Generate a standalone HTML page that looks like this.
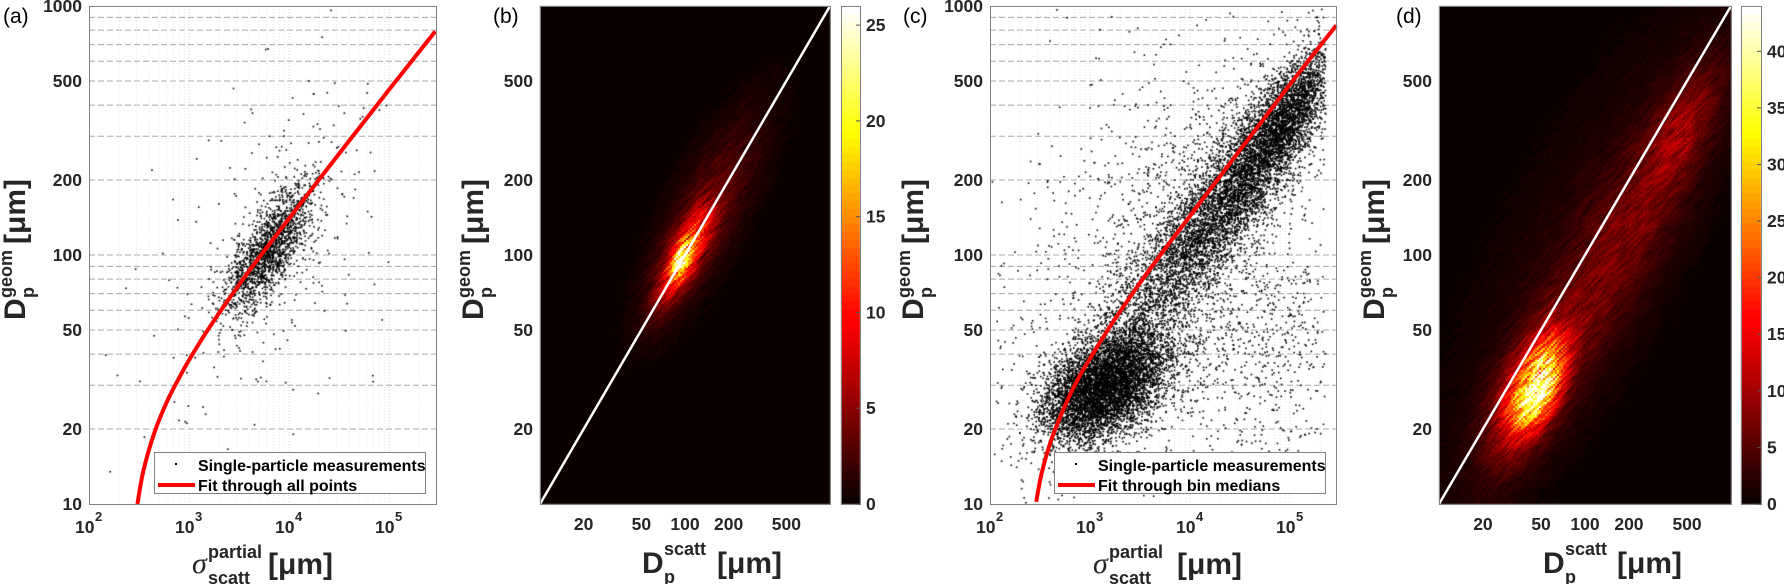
<!DOCTYPE html>
<html><head><meta charset="utf-8"><title>Particle size scatter and density</title>
<style>
html,body{margin:0;padding:0;background:#fff}
#wrap{position:relative;width:1784px;height:584px;overflow:hidden;background:#fff}
svg,canvas{position:absolute;left:0;top:0}
text{font-family:"Liberation Sans",Arial,sans-serif;fill:#262626}
.tk{font-size:17.5px;font-weight:bold}
.lg{font-size:16px;font-weight:bold;fill:#000}
.pl{font-size:21px;fill:#000}
.big{font-size:30px;font-weight:bold}
.sm{font-size:18px;font-weight:bold}
</style></head>
<body>
<div id="wrap">
<svg id="back" width="1784" height="584"></svg>
<canvas id="cv" width="1784" height="584"></canvas>
<svg id="front" width="1784" height="584">
  <text class="pl" x="3" y="23">(a)</text>
  <text class="pl" x="493" y="23">(b)</text>
  <text class="pl" x="903" y="23">(c)</text>
  <text class="pl" x="1396" y="23">(d)</text>

  <g>
    <text x="192" y="573" style="font-size:30px;font-style:italic;font-family:'Liberation Serif',serif">σ</text>
    <text class="sm" x="208" y="558">partial</text>
    <text class="sm" x="208" y="584">scatt</text>
    <text class="big" x="268" y="574">[μm]</text>
  </g>
  <g>
    <text class="big" x="642" y="573">D</text>
    <text class="sm" x="664" y="555">scatt</text>
    <text class="sm" x="664" y="583">p</text>
    <text class="big" x="717" y="573">[μm]</text>
  </g>
  <g>
    <text x="1093" y="573" style="font-size:30px;font-style:italic;font-family:'Liberation Serif',serif">σ</text>
    <text class="sm" x="1109" y="558">partial</text>
    <text class="sm" x="1109" y="584">scatt</text>
    <text class="big" x="1177" y="574">[μm]</text>
  </g>
  <g>
    <text class="big" x="1543" y="573">D</text>
    <text class="sm" x="1565" y="555">scatt</text>
    <text class="sm" x="1565" y="583">p</text>
    <text class="big" x="1617" y="573">[μm]</text>
  </g>

  <g transform="translate(25,320) rotate(-90)">
    <text class="big" x="0" y="0">D</text><text class="sm" x="22" y="-13">geom</text><text class="sm" x="22" y="9">p</text><text class="big" x="76" y="0">[μm]</text>
  </g>
  <g transform="translate(483,320) rotate(-90)">
    <text class="big" x="0" y="0">D</text><text class="sm" x="22" y="-13">geom</text><text class="sm" x="22" y="9">p</text><text class="big" x="76" y="0">[μm]</text>
  </g>
  <g transform="translate(923,320) rotate(-90)">
    <text class="big" x="0" y="0">D</text><text class="sm" x="22" y="-13">geom</text><text class="sm" x="22" y="9">p</text><text class="big" x="76" y="0">[μm]</text>
  </g>
  <g transform="translate(1384,320) rotate(-90)">
    <text class="big" x="0" y="0">D</text><text class="sm" x="22" y="-13">geom</text><text class="sm" x="22" y="9">p</text><text class="big" x="76" y="0">[μm]</text>
  </g>
</svg>
</div>
<script>
// ---------- data arrays ----------
const yTicksScatter=[10,20,50,100,200,500,1000];
const xTickExpScatter=[2,3,4,5];
const yTicksHeat=[20,50,100,200,500];
const xTicksHeat=[20,50,100,200,500];
const cbTicksB=[0,5,10,15,20,25];
const cbTicksD=[0,5,10,15,20,25,30,35,40];
const cbMaxB=26;
const cbMaxD=44;
const identityLine=[10,1000];

const fitA_sigma=[305,350,450,600,800,1000,1500,2500,5250,20000,100000,290000];
const fitA_D=[10,13.6,19.3,25.7,32.2,37.8,49.2,66.5,100,201,461,791];
const fitC_sigma=[290,330,420,600,800,1000,1500,2500,5050,20000,100000,290000];
const fitC_D=[10.2,13.4,18.6,26.3,33.0,38.4,49.9,67.6,100,207,484,836];

// scatter cluster descriptors (log10 units)
const scatA_cx=[3.78,3.9,3.7];
const scatA_cy=[2.02,2.1,1.9];
const scatA_sx=[0.22,0.5,0.8];
const scatA_sy=[0.13,0.3,0.45];
const scatA_rho=[0.75,0.5,0.3];
const scatA_n=[1700,250,90];

const scatC_cx=[3.15,4.4,4.95,3.8,4.8];
const scatC_cy=[1.48,2.25,2.55,2.0,1.6];
const scatC_sx=[0.32,0.55,0.2,0.8,0.45];
const scatC_sy=[0.12,0.3,0.12,0.45,0.25];
const scatC_rho=[0.45,0.9,0.7,0.4,0];
const scatC_n=[6500,6000,1500,1800,500];

// heatmap blob descriptors (log10 units; along / perpendicular to diagonal)
const heatB_cx=[2.0,1.97,2.15];
const heatB_cy=[2.0,1.97,2.17];
const heatB_sa=[0.17,0.06,0.38];
const heatB_sp=[0.06,0.035,0.14];
const heatB_amp=[12,11,3];

const heatD_cx=[1.68,1.6,2.2,2.65,2.0];
const heatD_cy=[1.47,1.45,2.0,2.5,2.0];
const heatD_sa=[0.14,0.22,0.7,0.2,0.9];
const heatD_sp=[0.08,0.11,0.16,0.09,0.35];
const heatD_amp=[32,11,5.5,5.5,2];

// ---------- layout ----------
const AX={
 a:{L:89,R:436,T:6,B:504,x0:2,x1:5.47,y0:1,y1:3},
 b:{L:540,R:830,T:6,B:504,x0:1,x1:3,y0:1,y1:3},
 c:{L:990,R:1336,T:6,B:504,x0:2,x1:5.46,y0:1,y1:3},
 d:{L:1439,R:1731,T:6,B:504,x0:1,x1:3,y0:1,y1:3}
};
const CB={b:{L:841,R:860,T:6,B:504,max:cbMaxB,ticks:cbTicksB},d:{L:1741,R:1761,T:6,B:504,max:cbMaxD,ticks:cbTicksD}};
function sx(ax,lv){return ax.L+(lv-ax.x0)/(ax.x1-ax.x0)*(ax.R-ax.L);}
function sy(ax,lv){return ax.B-(lv-ax.y0)/(ax.y1-ax.y0)*(ax.B-ax.T);}
const NS='http://www.w3.org/2000/svg';
const back=document.getElementById('back'), front=document.getElementById('front');
function mk(tag,attrs,parent){const e=document.createElementNS(NS,tag);for(const k in attrs)e.setAttribute(k,attrs[k]);parent.appendChild(e);return e;}
const cv=document.getElementById('cv'); const ctx=cv.getContext('2d');

function rng(seed){let a=seed>>>0;return function(){a|=0;a=a+0x6D2B79F5|0;let t=Math.imul(a^a>>>15,1|a);t=t+Math.imul(t^t>>>7,61|t)^t;return((t^t>>>14)>>>0)/4294967296;};}

// ---------- grids for scatter panels ----------
function grid(ax,key){
 for(let d=1;d<=2;d++)for(let m=1;m<=9;m++){
  const lv=Math.log10(m*Math.pow(10,d)); if(lv<=ax.y0||lv>=ax.y1)continue;
  const ln=mk('line',{x1:ax.L,x2:ax.R,y1:sy(ax,lv),y2:sy(ax,lv),stroke:'#a8a8a8','stroke-width':1,'stroke-dasharray':'6,3'},back);
  
  
 }
 for(let d=2;d<=5;d++)for(let m=1;m<=9;m++){
  const lv=Math.log10(m*Math.pow(10,d)); if(lv<=ax.x0||lv>=ax.x1)continue;
  const ln=mk('line',{x1:sx(ax,lv),x2:sx(ax,lv),y1:ax.T,y2:ax.B,stroke:m===1?'#d8d8d8':'#e6e6e6','stroke-width':1,'stroke-dasharray':'1,2'},back);
  
  
 }
}
grid(AX.a,'a'); grid(AX.c,'c');

// ---------- scatter ----------
function scatter(ax,cx,cy,sxs,sys,rho,n,seed,xmax){
 const r=rng(seed); ctx.fillStyle='#000';
 for(let k=0;k<cx.length;k++){
  for(let i=0;i<n[k];i++){
   const u1=Math.max(r(),1e-9),u2=r(),u3=Math.max(r(),1e-9),u4=r();
   const g1=Math.sqrt(-2*Math.log(u1))*Math.cos(2*Math.PI*u2);
   const g2=Math.sqrt(-2*Math.log(u3))*Math.cos(2*Math.PI*u4);
   const lx=cx[k]+sxs[k]*g1;
   const ly=cy[k]+sys[k]*(rho[k]*g1+Math.sqrt(1-rho[k]*rho[k])*g2);
   if(lx>xmax)continue;
   const px=sx(ax,lx),py=sy(ax,ly);
   if(px<ax.L+1||px>ax.R-2||py<ax.T+1||py>ax.B-2)continue;
   ctx.fillRect(px,py,1.6,1.6);
  }
 }
}
scatter(AX.a,scatA_cx,scatA_cy,scatA_sx,scatA_sy,scatA_rho,scatA_n,11,5.0);
scatter(AX.c,scatC_cx,scatC_cy,scatC_sx,scatC_sy,scatC_rho,scatC_n,29,5.35);

// ---------- heatmaps ----------
function hot(t){t=Math.max(0,Math.min(1,t));t=Math.floor(t*63.999)/63;
 const r=Math.min(1,t*2.667+0.042),g=Math.max(0,Math.min(1,(t-0.375)*2.667)),b=Math.max(0,Math.min(1,(t-0.75)*4));
 return 'rgb('+Math.round(r*255)+','+Math.round(g*255)+','+Math.round(b*255)+')';}
function heat(ax,cx,cy,sa,sp,amp,max,seed){
 const r=rng(seed); const cs=2;
 const nx=Math.ceil((ax.R-ax.L)/cs), ny=Math.ceil((ax.B-ax.T)/cs);
 const N=[]; for(let i=0;i<nx;i++){N.push([]);for(let j=0;j<ny;j++)N[i].push(r());}
 const g=(i,j)=>N[Math.max(0,Math.min(nx-1,i))][Math.max(0,Math.min(ny-1,j))];
 for(let i=0;i<nx;i++)for(let j=0;j<ny;j++){
  const px=ax.L+i*cs, py=ax.T+j*cs;
  const lx=ax.x0+(px+cs/2-ax.L)/(ax.R-ax.L)*(ax.x1-ax.x0);
  const ly=ax.y0+(ax.B-py-cs/2)/(ax.B-ax.T)*(ax.y1-ax.y0);
  let v=0;
  for(let k=0;k<cx.length;k++){
   const dx=lx-cx[k],dy=ly-cy[k];
   const a=(dx+dy)/Math.SQRT2,p=(dy-dx)/Math.SQRT2;
   v+=amp[k]*Math.exp(-0.5*(a*a/(sa[k]*sa[k])+p*p/(sp[k]*sp[k])));
  }
  const nz=(g(i,j)*2+g(i-1,j+1)+g(i+1,j-1)+g(i-2,j+2)+g(i+2,j-2))/6;
  v*=0.2+1.6*nz;
  ctx.fillStyle=hot(v/max);
  ctx.fillRect(px,py,Math.min(cs,ax.R-px),Math.min(cs,ax.B-py));
 }
}
heat(AX.b,heatB_cx,heatB_cy,heatB_sa,heatB_sp,heatB_amp,cbMaxB,5);
heat(AX.d,heatD_cx,heatD_cy,heatD_sa,heatD_sp,heatD_amp,cbMaxD,7);

// colorbars
for(const key in CB){const c=CB[key];
 for(let py=c.T;py<c.B;py++){ctx.fillStyle=hot((c.B-py)/(c.B-c.T));ctx.fillRect(c.L,py,c.R-c.L,1);}
 const bx=mk('rect',{x:c.L+0.5,y:c.T+0.5,width:c.R-c.L,height:c.B-c.T,fill:'none',stroke:'#808080','stroke-width':1},front);
 
 
 c.ticks.forEach(v=>{const y=c.B-v/c.max*(c.B-c.T);
  const tl=mk('line',{x1:c.R-4,x2:c.R,y1:y,y2:y,stroke:'#555','stroke-width':1},front);
  
  
  const t=mk('text',{x:c.R+6,y:y+6,'class':'tk'},front); t.textContent=v;
  
  
 });
}

// ---------- curves ----------
function smoothPath(pts){let d='M'+pts[0][0]+','+pts[0][1];
 for(let i=0;i<pts.length-1;i++){const p0=pts[Math.max(0,i-1)],p1=pts[i],p2=pts[i+1],p3=pts[Math.min(pts.length-1,i+2)];
  const c1x=p1[0]+(p2[0]-p0[0])/6,c1y=p1[1]+(p2[1]-p0[1])/6,c2x=p2[0]-(p3[0]-p1[0])/6,c2y=p2[1]-(p3[1]-p1[1])/6;
  d+=' C'+c1x+','+c1y+' '+c2x+','+c2y+' '+p2[0]+','+p2[1];}
 return d;}
function fit(ax,xs,ys,key){
 const pts=xs.map((x,i)=>[sx(ax,Math.log10(x)),sy(ax,Math.log10(ys[i]))]);
 const p=mk('path',{d:smoothPath(pts),fill:'none',stroke:'#ff0000','stroke-width':4},front);
 
 
}
fit(AX.a,fitA_sigma,fitA_D,'a'); fit(AX.c,fitC_sigma,fitC_D,'c');
function diag(ax,key){
 const l=mk('line',{x1:sx(ax,Math.log10(identityLine[0])),y1:sy(ax,Math.log10(identityLine[0])),x2:sx(ax,Math.log10(identityLine[1])),y2:sy(ax,Math.log10(identityLine[1])),stroke:'#fff','stroke-width':2.5},front);
 
 
}
diag(AX.b,'b'); diag(AX.d,'d');

// ---------- axes boxes and tick labels ----------
for(const key in AX){const ax=AX[key];
 const b=mk('rect',{x:ax.L+0.5,y:ax.T+0.5,width:ax.R-ax.L,height:ax.B-ax.T,fill:'none',stroke:'#808080','stroke-width':1},front);
 
 
}
['a','c'].forEach(key=>{const ax=AX[key];
 yTicksScatter.forEach(v=>{const t=mk('text',{x:ax.L-7,y:sy(ax,Math.log10(v))+6,'class':'tk','text-anchor':'end'},front);t.textContent=v;
  
  });
 xTickExpScatter.forEach(e=>{const x=sx(ax,e);
  const t=mk('text',{x:x-14,y:533,'class':'tk'},front);t.textContent='10';
  
  
  const s=mk('text',{x:x+6,y:521,style:'font-size:13px;font-weight:bold'},front);s.textContent=e;
  
  });
});
['b','d'].forEach(key=>{const ax=AX[key];
 yTicksHeat.forEach(v=>{const t=mk('text',{x:ax.L-7,y:sy(ax,Math.log10(v))+6,'class':'tk','text-anchor':'end'},front);t.textContent=v;
  
  });
 xTicksHeat.forEach(v=>{const t=mk('text',{x:sx(ax,Math.log10(v)),y:530,'class':'tk','text-anchor':'middle'},front);t.textContent=v;
  
  });
});

// ---------- legends ----------
function legend(L,key,label2){
 const g=mk('g',{},front);
 
 
 mk('rect',{x:L+0.5,y:452.5,width:271,height:41,fill:'#fff',stroke:'#808080','stroke-width':1},g);
 mk('rect',{x:L+21,y:463,width:2,height:2,fill:'#000'},g);
 mk('line',{x1:L+4,x2:L+41,y1:485,y2:485,stroke:'#ff0000','stroke-width':4},g);
 const t1=mk('text',{x:L+44,y:471,'class':'lg'},g);t1.textContent='Single-particle measurements';
 
 
 const t2=mk('text',{x:L+44,y:491,'class':'lg'},g);t2.textContent=label2;
 
 
}
legend(154,'a','Fit through all points');
legend(1054,'c','Fit through bin medians');
</script>
</body></html>
